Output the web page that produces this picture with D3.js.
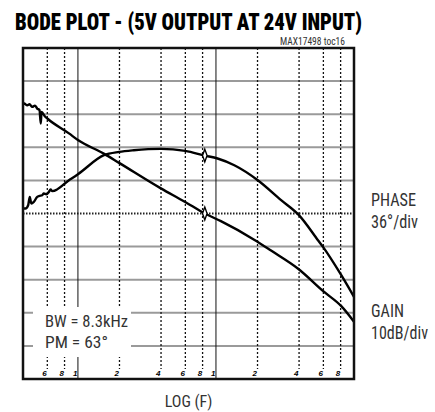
<!DOCTYPE html>
<html>
<head>
<meta charset="utf-8">
<script src="https://cdn.jsdelivr.net/npm/d3@7"></script>
<style>
  html, body { margin: 0; padding: 0; background: #fff; }
  svg { display: block; }
  .narrow { font-family: "Liberation Sans Narrow", "Roboto Condensed", "DejaVu Sans", sans-serif; font-stretch: condensed; }
</style>
</head>
<body>
<svg id="chart" width="435" height="412"></svg>
<script>
'use strict';

// gain curve (Hz, dB)
const gainFreq = [400, 410, 430, 446, 467, 488, 507, 527, 538, 545, 575, 600, 861, 1000, 1538, 1987,
    3990, 5985, 8300, 10860, 18900, 25070, 39170, 60800, 80900, 100000];
const gainDb = [33.4, 33.2, 32.7, 33.0, 32.2, 32.6, 31.7, 31.2, 27.2, 30.7, 29.4, 28.7, 24.2, 22.2, 18.1, 15.3,
    7.6, 3.5, 0, -2.3, -7.9, -11.2, -16.6, -23.7, -28, -32.7];

// phase curve (Hz, degrees)
const phaseFreq = [400, 417, 436, 448, 459, 479, 507, 527, 551, 566, 590, 616, 634, 652, 861, 1000, 1544,
    1987, 2540, 3990, 5985, 8300, 10270, 13580, 20090, 29640, 39900, 54800, 59600, 80900, 100000];
const phaseDeg = [5.4, 5.4, 9.0, 18.1, 10.9, 12.6, 18.1, 19.1, 19.9, 21.8, 21.0, 23.5, 26.1, 24.3, 36.2, 42.7, 63.4,
    67, 68.8, 70.3, 68.1, 63, 59.8, 52.5, 36.2, 14.5, -1.8, -29, -36.3, -67.1, -90.7];

// crossover marker
const crossFreq = 8300;
const crossGain = 0;
const crossPhase = 63;

// x grid / tick labels
const tickFreqs = [600, 800, 1000, 2000, 4000, 6000, 8000, 10000, 20000, 40000, 60000, 80000];
const tickLabels = ['6', '8', '1', '2', '4', '6', '8', '1', '2', '4', '6', '8'];
const decadeFreqs = [1000, 10000];
const gainTicks = [-40, -30, -20, -10, 0, 10, 20, 30, 40];

(function() {
    const d3 = window.d3;
    const svg = d3.select('#chart');

    const plotLeft = 23, plotRight = 354, plotTop = 48, plotBottom = 379;

    const x = d3.scaleLog().domain([400, 100000]).range([plotLeft, plotRight]);
    const yGain = d3.scaleLinear().domain([-50, 50]).range([plotBottom, plotTop]);
    const yPhase = d3.scaleLinear().domain([-180, 180]).range([plotBottom, plotTop]);

    // title
    svg.append('text')
        .attr('class', 'narrow')
        .attr('x', 15).attr('y', 30)
        .attr('font-size', 23).attr('font-weight', 900)
        .attr('textLength', 347).attr('lengthAdjust', 'spacingAndGlyphs')
        .text('BODE PLOT - (5V OUTPUT AT 24V INPUT)');

    svg.append('text')
        .attr('class', 'narrow')
        .attr('x', 280).attr('y', 45)
        .attr('font-size', 10).attr('fill', '#333')
        .attr('textLength', 65).attr('lengthAdjust', 'spacingAndGlyphs')
        .text('MAX17498 toc16');

    // horizontal grid
    svg.append('g')
        .selectAll('line')
        .data(gainTicks)
        .enter()
        .append('line')
        .attr('x1', plotLeft).attr('x2', plotRight)
        .attr('y1', d => yGain(d)).attr('y2', d => yGain(d))
        .attr('stroke', d => d === 0 ? '#222' : '#9a9a9a')
        .attr('stroke-width', 2)
        .attr('stroke-dasharray', d => d === 0 ? '1.5,1.5' : null);

    // vertical grid
    svg.append('g')
        .selectAll('line')
        .data(tickFreqs)
        .enter()
        .append('line')
        .attr('x1', d => x(d)).attr('x2', d => x(d))
        .attr('y1', plotTop)
        .attr('y2', d => decadeFreqs.includes(d) ? plotBottom : 369)
        .attr('stroke', '#111')
        .attr('stroke-width', d => decadeFreqs.includes(d) ? 1 : 1.3)
        .attr('stroke-dasharray', d => decadeFreqs.includes(d) ? null : '2,2');

    // tick labels
    svg.append('g')
        .selectAll('text')
        .data(tickFreqs)
        .enter()
        .append('text')
        .attr('x', d => x(d) - 0.5)
        .attr('y', 376)
        .attr('text-anchor', 'end')
        .attr('font-family', 'Liberation Sans, Arial, sans-serif')
        .attr('font-size', 8)
        .attr('font-weight', 'bold')
        .attr('font-style', 'italic')
        .text((d, i) => tickLabels[i]);

    // annotation box
    svg.append('rect')
        .attr('x', 33).attr('y', 307)
        .attr('width', 98).attr('height', 50)
        .attr('fill', '#fff');

    const note = svg.append('g').attr('class', 'narrow').attr('font-size', 17).attr('fill', '#333');
    note.append('text').attr('x', 45).attr('y', 327)
        .attr('textLength', 83).attr('lengthAdjust', 'spacingAndGlyphs')
        .text('BW = 8.3kHz');
    note.append('text').attr('x', 45).attr('y', 348)
        .attr('textLength', 63).attr('lengthAdjust', 'spacingAndGlyphs')
        .text('PM = 63°');

    // curves
    svg.append('clipPath').attr('id', 'plot-clip')
        .append('rect')
        .attr('x', plotLeft).attr('y', plotTop)
        .attr('width', plotRight - plotLeft).attr('height', plotBottom - plotTop);

    const gainLine = d3.line()
        .x((d, i) => x(gainFreq[i]))
        .y(d => yGain(d))
        .curve(d3.curveMonotoneX);

    const phaseLine = d3.line()
        .x((d, i) => x(phaseFreq[i]))
        .y(d => yPhase(d))
        .curve(d3.curveMonotoneX);

    const curves = svg.append('g').attr('clip-path', 'url(#plot-clip)');
    curves.append('path')
        .attr('d', gainLine(gainDb))
        .attr('fill', 'none')
        .attr('stroke', '#000')
        .attr('stroke-width', 2.4);
    curves.append('path')
        .attr('d', phaseLine(phaseDeg))
        .attr('fill', 'none')
        .attr('stroke', '#000')
        .attr('stroke-width', 2.4);

    // markers
    const diamond = d3.symbol().type(d3.symbolDiamond).size(28);
    svg.append('g')
        .selectAll('path')
        .data([yGain(crossGain), yPhase(crossPhase)])
        .enter()
        .append('path')
        .attr('d', diamond)
        .attr('transform', d => 'translate(' + x(crossFreq) + ',' + d + ') scale(0.8,1.3)')
        .attr('fill', '#fff')
        .attr('stroke', '#000')
        .attr('stroke-width', 1.6);

    // frame
    svg.append('rect')
        .attr('x', plotLeft).attr('y', plotTop)
        .attr('width', plotRight - plotLeft).attr('height', plotBottom - plotTop)
        .attr('fill', 'none')
        .attr('stroke', '#111')
        .attr('stroke-width', 2.5);

    // right labels
    const side = svg.append('g').attr('class', 'narrow').attr('font-size', 18).attr('fill', '#333');
    side.append('text').attr('x', 371).attr('y', 206)
        .attr('textLength', 45).attr('lengthAdjust', 'spacingAndGlyphs').text('PHASE');
    side.append('text').attr('x', 371).attr('y', 228)
        .attr('textLength', 47).attr('lengthAdjust', 'spacingAndGlyphs').text('36°/div');
    side.append('text').attr('x', 371).attr('y', 317)
        .attr('textLength', 33).attr('lengthAdjust', 'spacingAndGlyphs').text('GAIN');
    side.append('text').attr('x', 371).attr('y', 339)
        .attr('textLength', 57).attr('lengthAdjust', 'spacingAndGlyphs').text('10dB/div');

    svg.append('text')
        .attr('class', 'narrow')
        .attr('x', (plotLeft + plotRight) / 2).attr('y', 407)
        .attr('text-anchor', 'middle')
        .attr('font-size', 16).attr('fill', '#333')
        .text('LOG (F)');
}());
</script>
</body>
</html>
